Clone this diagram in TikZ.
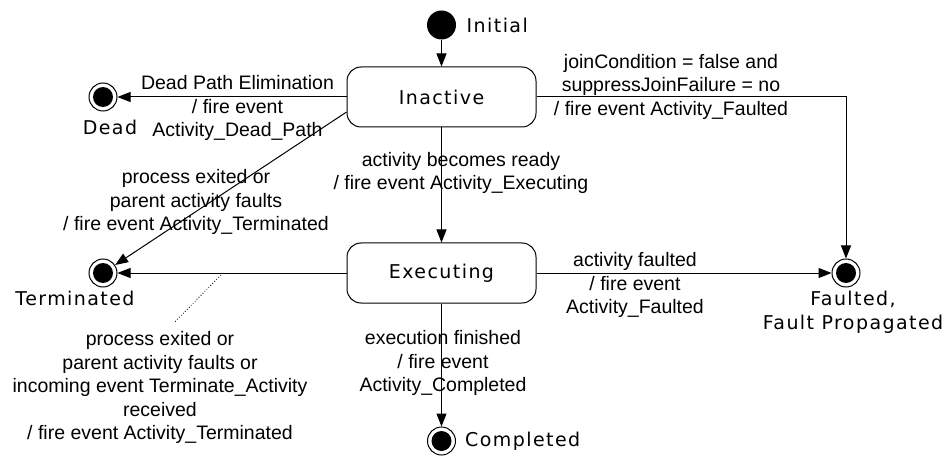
\documentclass[tikz,border=0pt]{standalone}
\usepackage{fontspec}
\setmainfont{Liberation Sans}
\newfontfamily\statefont{DejaVu Sans}[LetterSpace=7.5]
\usetikzlibrary{arrows.meta}
\tikzset{
   centered/.style = { align=center, anchor=center, inner sep=0pt },
   statebox/.style = { draw, line width=1pt, rounded corners=14pt, minimum width=189pt,
                       minimum height=60pt, font=\statefont\fontsize{19}{23}\selectfont },
   startdot/.style = { circle, fill=black, minimum size=29pt, inner sep=0pt },
     enddot/.style = { circle, draw, line width=1pt, minimum size=28pt, inner sep=0pt,
                       path picture={\fill (path picture bounding box.center) circle (10pt);} },
  statename/.style = { font=\statefont\fontsize{19}{24}\selectfont, centered },
      trans/.style = { font=\fontsize{19.5}{23.5}\selectfont, centered },
      arrow/.style = { line width=1pt, -{Triangle[length=13pt,width=10pt]} },
}

\begin{document}
\begin{tikzpicture}[x=1pt, y=-1pt]
  \useasboundingbox (0,0) rectangle (948,457);

  % states
  \node [startdot] (init)      at (441.5,25)  {};
  \node [statebox] (inactive)  at (441.5,97)  {Inactive};
  \node [statebox] (executing) at (441.5,273) {Executing};
  \node [enddot]   (dead)      at (103,97)    {};
  \node [enddot]   (term)      at (103,273)   {};
  \node [enddot]   (faulted)   at (846,273)   {};
  \node [enddot]   (done)      at (441.5,441) {};

  \node [statename, anchor=west] (init-name) at (466.5,25) {Initial};
  \node [statename] (dead-name)    at (110,127) {Dead};
  \node [statename] (term-name)    at (75,298)  {Terminated};
  \node [statename] (faulted-name) at (853,312) {Faulted,\\Fault Propagated};
  \node [statename, anchor=west] (done-name) at (465,441) {Completed};

  % transitions
  \draw [arrow] (init) -- (inactive);
  \draw [arrow] (inactive) -- (executing);
  \draw [arrow] (executing) -- (done);
  \draw [arrow] (inactive) -- (dead);
  \draw [arrow] (inactive.189) -- (term);
  \draw [arrow] (inactive) -| (faulted);
  \draw [arrow] (executing) -- (faulted);
  \draw [arrow] (executing) -- coordinate [pos=0.54] (tnote) (term);

  \coordinate (tnote-end) at (175,321.7);
  \draw [dotted, line width=0.8pt] (tnote) -- (tnote-end);

  % labels
  \node [trans] (dead-lbl)  at (237.5,108) {Dead Path Elimination\\/ fire event\\Activity\_Dead\_Path};
  \node [trans] (term-lbl)  at (196,202)   {process exited or\\parent activity faults\\/ fire event Activity\_Terminated};
  \node [trans] (exec-lbl)  at (461,173)   {activity becomes ready\\/ fire event Activity\_Executing};
  \node [trans] (join-lbl)  at (671,86.5)  {joinCondition = false and\\suppressJoinFailure = no\\/ fire event Activity\_Faulted};
  \node [trans] (fault-lbl) at (635,285)   {activity faulted\\/ fire event\\Activity\_Faulted};
  \node [trans] (kill-lbl)  at (160,387.5) {process exited or\\parent activity faults or\\incoming event Terminate\_Activity\\received\\/ fire event Activity\_Terminated};
  \node [trans] (done-lbl)  at (443,363)   {execution finished\\/ fire event\\Activity\_Completed};
\end{tikzpicture}
\end{document}
